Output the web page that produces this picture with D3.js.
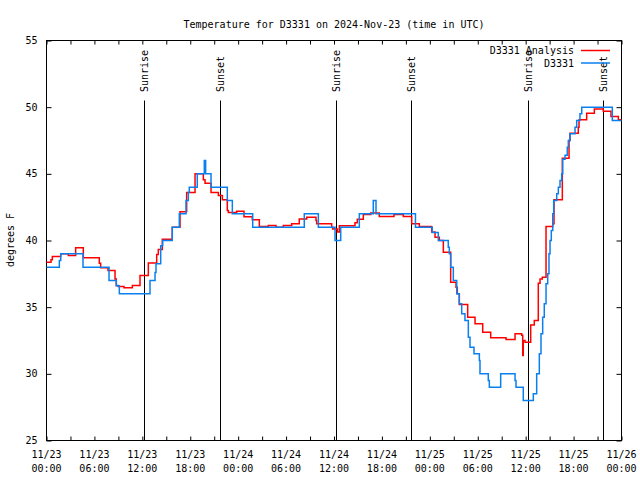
<!DOCTYPE html>
<html><head><meta charset="utf-8">
<script src="https://cdn.jsdelivr.net/npm/d3@7"></script>
<style>
body{margin:0;background:#fff;}
svg text{font-family:"DejaVu Sans Mono","Liberation Mono",monospace;font-size:10px;fill:#000;}
</style></head><body><svg id="c" width="640" height="480"></svg>
<script>
const chartTitle = "Temperature for D3331 on 2024-Nov-23 (time in UTC)";
const yAxisLabel = "degrees F";
const seriesNames = ["D3331 Analysis", "D3331"];
const seriesColors = ["#ff0000", "#0a80f0"];
const startTime = "2024-11-23T00:00:00Z";
const endTime = "2024-11-26T00:00:00Z";
const yTicks = [25, 30, 35, 40, 45, 50, 55];

// hours since start, temperature F
const analysisHours = [0,0.56,0.73,1.78,2.73,3.65,4.61,6.61,6.78,7.7,8.58,8.74,8.99,9.7,10.75,11.71,12.75,13.8,14.0,14.5,15.75,16.72,17.55,18.6,19.64,19.85,20.6,21.52,22.02,22.64,22.77,23.81,24.73,25.77,26.65,27.77,28.74,29.65,30.7,31.65,32.58,33.75,33.83,35.71,35.83,36.42,36.67,38.63,38.92,39.67,40.6,41.67,43.51,44.68,45.73,46.68,48.23,48.65,49.19,49.69,50.61,51.28,51.44,51.69,52.74,53.66,54.62,55.62,57.54,58.67,59.5,59.63,59.7,59.92,60.63,61.08,61.58,61.8,62.08,62.55,63.39,63.55,64.59,65.43,65.55,66.59,66.68,67.64,68.6,69.72,70.68,71.6,72];
const analysisTemps = [38.37,38.55,38.8,39.0,38.88,39.45,38.7,38.3,37.95,37.75,37.12,36.62,36.55,36.45,36.62,37.37,38.32,38.95,39.33,40.1,41.0,42.15,43.6,45.0,44.55,44.3,43.6,43.37,43.05,42.25,42.1,42.2,41.78,41.55,41.05,41.12,41.0,41.12,41.25,41.62,41.75,41.5,41.25,41.0,40.87,40.63,41.1,41.33,41.6,41.95,42.07,41.8,41.95,41.8,41.25,41.05,40.63,40.25,40.0,39.12,36.87,36.5,36.0,35.2,34.25,33.75,33.12,32.7,32.57,33.0,32.9,31.37,32.5,32.37,33.67,34.0,36.8,37.12,37.25,41.05,41.25,43.05,46.17,47.5,48.05,48.5,49.05,49.55,49.87,49.7,49.3,49.05,49.05];

const obsHours = [0,1.61,1.78,4.57,7.83,8.74,9.12,12.96,13.59,13.71,14.3,14.55,15.75,16.63,17.47,17.76,17.88,18.88,19.76,19.93,20.6,22.64,23.27,25.82,32.28,34.04,36.13,36.84,39.17,40.92,41.26,46.2,48.3,49.06,50.31,50.44,50.61,50.94,51.37,51.69,51.99,52.4,52.82,53.03,53.53,54.2,54.28,55.32,55.45,56.87,58.67,58.79,59.7,60.96,61.38,61.71,61.92,62.13,62.33,62.55,62.76,62.92,63.05,63.21,63.39,63.51,63.89,64.09,64.3,64.51,64.64,64.93,65.21,65.34,65.55,66.18,66.39,66.8,67.02,70.85,72];
const obsTemps = [38,38.5,39,38,37,36.6,36,37,37.6,38.25,39.6,40,41,42,43,43.6,44,45,46,45,44,43,42,41,42,41,40,41,42,43,42,41,40.6,40,39.5,39,38,37,36,35.25,34.5,34,32.75,32,31.5,31,30,29.5,29,30,29.5,29,28,28.5,30,31.5,33,34.25,35.25,36.75,37.5,39,40,40.75,42,43,43.5,44,44.5,45,46.1,46.4,47,47.5,48,48.5,49,49.5,50,49,49];

const sunHours = [12.25, 21.76, 36.29, 45.68, 60.33, 69.72];
const sunLabels = ["Sunrise", "Sunset", "Sunrise", "Sunset", "Sunrise", "Sunset"];
const sunLineTop = 50.5;

const svg = d3.select("#c");
const L = 46.5, R = 621.5, T = 40.5, B = 440.5;
const t0 = new Date(startTime), t1 = new Date(endTime);
const toDate = h => new Date(t0.getTime() + h * 3600000);
const x = d3.scaleUtc().domain([t0, t1]).range([L, R]);
const y = d3.scaleLinear().domain([25, 55]).range([B, T]);

// title
svg.append("text").attr("x", (L + R) / 2).attr("y", 28).attr("text-anchor", "middle").text(chartTitle);

// y axis label
svg.append("text").attr("transform", `translate(14,240) rotate(-90)`).attr("text-anchor", "middle").text(yAxisLabel);

// ticks via axes (inward)
const tick3 = d3.utcHour.every(3);
svg.append("g").attr("transform", `translate(0,${B})`)
  .call(d3.axisBottom(x).ticks(tick3).tickSize(-4).tickFormat(""))
  .call(g => { g.select(".domain").remove(); g.selectAll("line").attr("stroke", "#000"); });
svg.append("g").attr("transform", `translate(0,${T})`)
  .call(d3.axisTop(x).ticks(tick3).tickSize(-4).tickFormat(""))
  .call(g => { g.select(".domain").remove(); g.selectAll("line").attr("stroke", "#000"); });
svg.append("g").attr("transform", `translate(${L},0)`)
  .call(d3.axisLeft(y).tickValues(yTicks).tickSize(-5).tickFormat(""))
  .call(g => { g.select(".domain").remove(); g.selectAll("line").attr("stroke", "#000"); });
svg.append("g").attr("transform", `translate(${R},0)`)
  .call(d3.axisRight(y).tickValues(yTicks).tickSize(-5).tickFormat(""))
  .call(g => { g.select(".domain").remove(); g.selectAll("line").attr("stroke", "#000"); });

// y tick labels
svg.append("g").selectAll("text").data(yTicks).join("text")
  .attr("x", 37.5).attr("y", d => y(d)).attr("dy", "0.35em").attr("text-anchor", "end").text(d => d);

// x tick labels (two lines)
const fmtD = d3.utcFormat("%m/%d"), fmtT = d3.utcFormat("%H:%M");
const xl = svg.append("g").selectAll("g").data(d3.utcHour.every(6).range(t0, new Date(t1.getTime() + 1))).join("g");
xl.append("text").attr("x", d => x(d)).attr("y", 458).attr("text-anchor", "middle").text(d => fmtD(d));
xl.append("text").attr("x", d => x(d)).attr("y", 472).attr("text-anchor", "middle").text(d => fmtT(d));

// frame
svg.append("rect").attr("x", L).attr("y", T).attr("width", R - L).attr("height", B - T)
  .attr("fill", "none").attr("stroke", "#000").attr("stroke-width", 1);

// sunrise/sunset lines
const sg = svg.append("g").selectAll("g").data(sunHours.map((h, i) => ({ h, label: sunLabels[i] }))).join("g");
sg.append("line").attr("x1", d => Math.round(x(toDate(d.h))) + 0.5).attr("x2", d => Math.round(x(toDate(d.h))) + 0.5)
  .attr("y1", y(sunLineTop)).attr("y2", B).attr("stroke", "#000").attr("stroke-width", 1);
sg.append("text").attr("transform", d => `translate(${Math.round(x(toDate(d.h))) + 4},92) rotate(-90)`)
  .attr("text-anchor", "start").text(d => d.label);

// series
const line = d3.line().x(d => x(toDate(d.h))).y(d => y(d.v)).curve(d3.curveStepAfter);
const analysis = analysisHours.map((h, i) => ({ h, v: analysisTemps[i] }));
const obs = obsHours.map((h, i) => ({ h, v: obsTemps[i] }));
[analysis, obs].forEach((data, i) => {
  svg.append("path").datum(data).attr("d", line).attr("fill", "none")
    .attr("stroke", seriesColors[i]).attr("stroke-width", 1.5);
});

// legend
const lg = svg.append("g").selectAll("g").data(seriesNames).join("g");
lg.append("text").attr("x", 574).attr("y", (d, i) => 54 + i * 12.5).attr("text-anchor", "end").text(d => d);
lg.append("line").attr("x1", 581).attr("x2", 610).attr("y1", (d, i) => 50.5 + i * 12.5).attr("y2", (d, i) => 50.5 + i * 12.5)
  .attr("stroke", (d, i) => seriesColors[i]).attr("stroke-width", 1.5);
</script></body></html>
